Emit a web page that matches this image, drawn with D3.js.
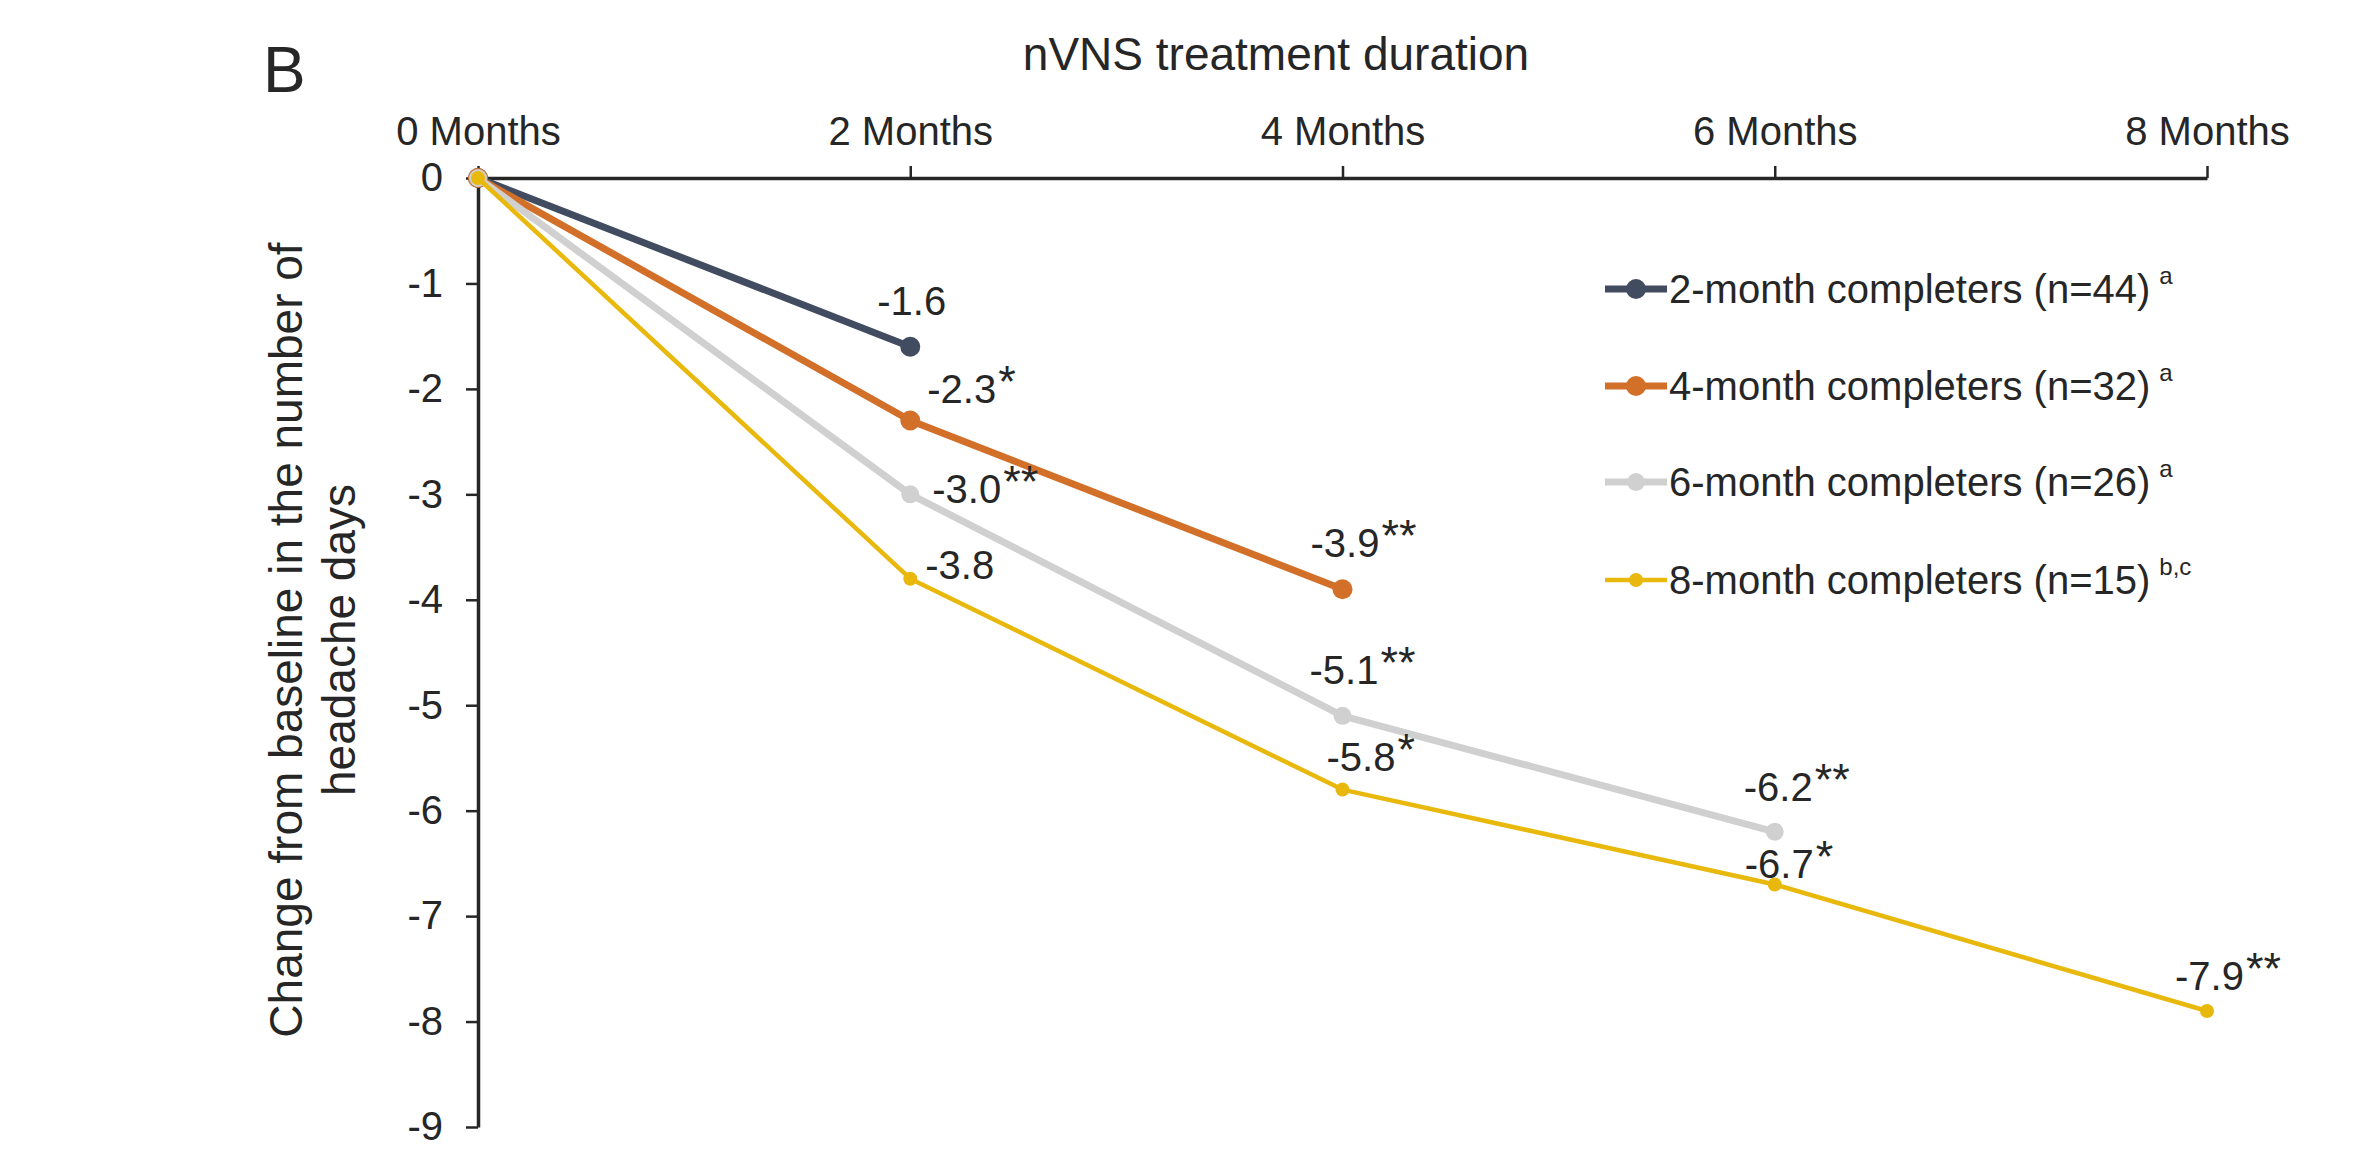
<!DOCTYPE html>
<html>
<head>
<meta charset="utf-8">
<script src="https://cdn.jsdelivr.net/npm/d3@7"></script>
<style>
  html, body { margin: 0; padding: 0; background: #ffffff; }
  svg { display: block; }
  text { font-family: "Liberation Sans", Arial, Helvetica, sans-serif; fill: #262626; }
</style>
</head>
<body>
<svg id="chart" width="2367" height="1153"></svg>
<script>
// Treatment timepoints (months) and their axis labels
const months = [0, 2, 4, 6, 8];
const monthLabels = ["0 Months", "2 Months", "4 Months", "6 Months", "8 Months"];
const yTickValues = [0, -1, -2, -3, -4, -5, -6, -7, -8, -9];

// Mean change from baseline in headache days, one array per completer group
const twoMonthCompleters = [0, -1.6];
const fourMonthCompleters = [0, -2.3, -3.9];
const sixMonthCompleters = [0, -3.0, -5.1, -6.2];
const eightMonthCompleters = [0, -3.8, -5.8, -6.7, -7.9];

// Significance markers for each timepoint
const twoMonthSig = ["", ""];
const fourMonthSig = ["", "*", "**"];
const sixMonthSig = ["", "**", "**", "**"];
const eightMonthSig = ["", "", "*", "*", "**"];

// Legend text and footnote letters
const groupNames = [
  "2-month completers (n=44)",
  "4-month completers (n=32)",
  "6-month completers (n=26)",
  "8-month completers (n=15)"
];
const groupNotes = ["a", "a", "a", "b,c"];

// Styling per group
const groupColors = ["#424c60", "#d2702a", "#d0d0d0", "#e9b80c"];
const groupWidths = [7, 7, 7, 4.5];
const groupRadii = [10, 10, 9, 7];

// Value label offsets from each point (text start, baseline), skipping the origin
const labelOffsets = [
  [null, [-33, -32]],
  [null, [17, -18], [-32, -32]],
  [null, [22, 9], [-33, -32], [-31, -31]],
  [null, [15, 0], [-16, -19], [-30, -6], [-32, -21]]
];

const groups = [
  { values: twoMonthCompleters, sig: twoMonthSig },
  { values: fourMonthCompleters, sig: fourMonthSig },
  { values: sixMonthCompleters, sig: sixMonthSig },
  { values: eightMonthCompleters, sig: eightMonthSig }
].map((g, i) => ({
  ...g,
  name: groupNames[i],
  note: groupNotes[i],
  color: groupColors[i],
  width: groupWidths[i],
  r: groupRadii[i],
  offsets: labelOffsets[i]
}));

const svg = d3.select("#chart");
const axisColor = "#262626";

const x = d3.scaleLinear().domain([0, 8]).range([478, 2207]);
const y = d3.scaleLinear().domain([0, -9]).range([178, 1127]);

// Panel letter
svg.append("text")
  .attr("x", 263).attr("y", 92)
  .attr("font-size", 64)
  .text("B");

// Top axis title
svg.append("text")
  .attr("x", 1276).attr("y", 70)
  .attr("text-anchor", "middle")
  .attr("font-size", 46)
  .text("nVNS treatment duration");

// Y axis title (two lines)
const yTitleLines = ["Change from baseline in the number of", "headache days"];
const yTitleX = [302, 355];
yTitleLines.forEach((line, i) => {
  svg.append("text")
    .attr("transform", `translate(${yTitleX[i]},640) rotate(-90)`)
    .attr("text-anchor", "middle")
    .attr("font-size", 46)
    .text(line);
});

// Top axis
const xAxis = svg.append("g")
  .attr("transform", `translate(0,${y(0)})`)
  .call(d3.axisTop(x)
    .tickValues(months)
    .tickSize(12)
    .tickSizeOuter(0)
    .tickPadding(21)
    .tickFormat((d, i) => monthLabels[i]));
xAxis.select(".domain").attr("stroke", axisColor).attr("stroke-width", 3.5);
xAxis.selectAll(".tick line").attr("stroke", axisColor).attr("stroke-width", 2.5);
xAxis.selectAll(".tick text")
  .attr("font-size", 40)
  .attr("font-family", "'Liberation Sans', Arial, sans-serif")
  .attr("fill", axisColor);

// Left axis
const yAxis = svg.append("g")
  .attr("transform", `translate(${x(0)},0)`)
  .call(d3.axisLeft(y)
    .tickValues(yTickValues)
    .tickSize(12)
    .tickSizeOuter(0)
    .tickPadding(23)
    .tickFormat(d3.format("d")));
yAxis.select(".domain").attr("stroke", axisColor).attr("stroke-width", 3.5);
yAxis.selectAll(".tick line").attr("stroke", axisColor).attr("stroke-width", 2.5);
yAxis.selectAll(".tick text")
  .attr("font-size", 40)
  .attr("font-family", "'Liberation Sans', Arial, sans-serif")
  .attr("fill", axisColor)
  .text(d => d === 0 ? "0" : "-" + Math.abs(d));

// Series lines and markers
const line = d3.line()
  .x((d, i) => x(months[i]))
  .y(d => y(d));

const seriesG = svg.append("g");
groups.forEach(g => {
  seriesG.append("path")
    .datum(g.values)
    .attr("fill", "none")
    .attr("stroke", g.color)
    .attr("stroke-width", g.width)
    .attr("stroke-linejoin", "round")
    .attr("stroke-linecap", "round")
    .attr("d", line);
  seriesG.selectAll(null)
    .data(g.values)
    .join("circle")
    .attr("cx", (d, i) => x(months[i]))
    .attr("cy", d => y(d))
    .attr("r", g.r)
    .attr("fill", g.color);
});

// Value labels with significance markers
const fmt = d3.format(".1f");
const labelsG = svg.append("g");
groups.forEach(g => {
  g.values.forEach((v, i) => {
    const off = g.offsets[i];
    if (!off) return;
    const t = labelsG.append("text")
      .attr("x", x(months[i]) + off[0])
      .attr("y", y(v) + off[1])
      .attr("font-size", 40);
    t.append("tspan").text(fmt(v).replace("−", "-"));
    if (g.sig[i]) {
      t.append("tspan")
        .attr("font-size", 45)
        .attr("dx", 2)
        .attr("dy", -6)
        .text(g.sig[i]);
    }
  });
});

// Legend
const legendY = [289, 386, 482, 580];
const legend = svg.append("g");
groups.forEach((g, i) => {
  const row = legend.append("g").attr("transform", `translate(0,${legendY[i]})`);
  row.append("line")
    .attr("x1", 1605).attr("x2", 1667)
    .attr("y1", 0).attr("y2", 0)
    .attr("stroke", g.color)
    .attr("stroke-width", g.width);
  row.append("circle")
    .attr("cx", 1636).attr("cy", 0)
    .attr("r", g.r)
    .attr("fill", g.color);
  const t = row.append("text")
    .attr("x", 1669).attr("y", 14)
    .attr("font-size", 40);
  t.append("tspan").text(g.name);
  t.append("tspan")
    .attr("font-size", 24)
    .attr("dx", 9)
    .attr("dy", -19)
    .text(g.note);
});
</script>
</body>
</html>
